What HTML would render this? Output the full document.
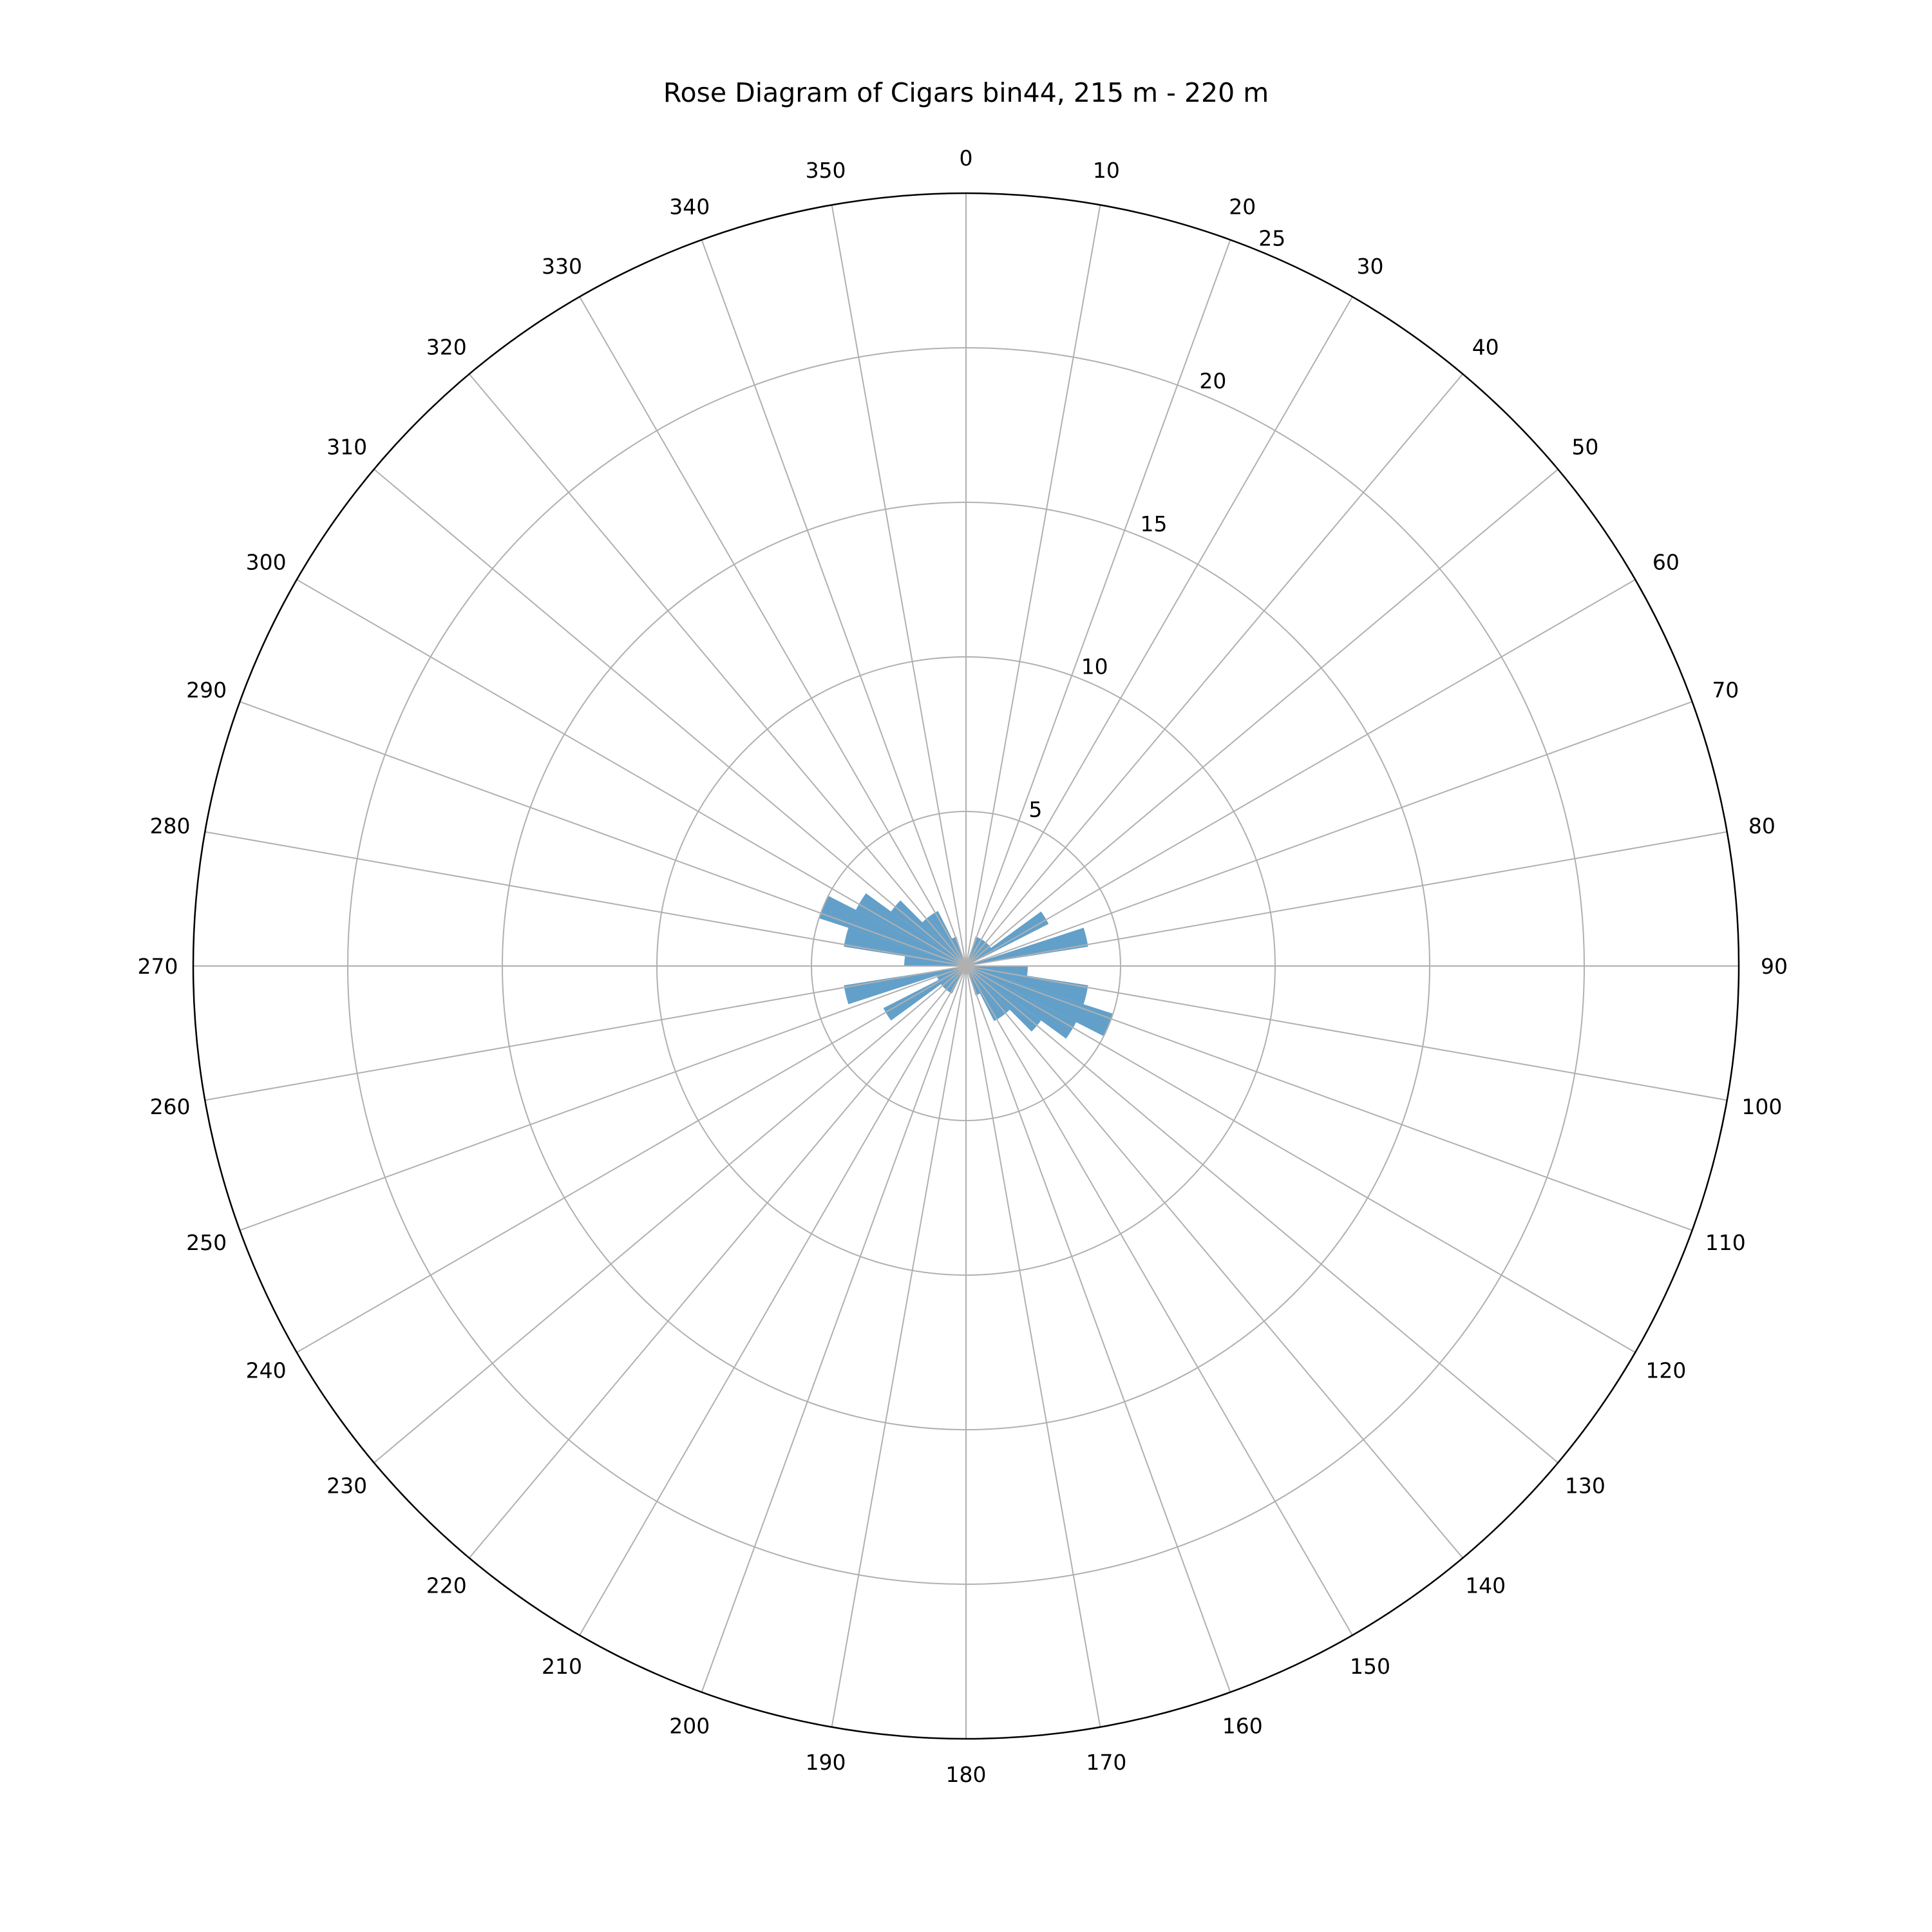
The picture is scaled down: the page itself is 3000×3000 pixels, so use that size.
<!DOCTYPE html>
<html><head><meta charset="utf-8"><style>
html,body{margin:0;padding:0;background:#fff;}
svg{display:block;font-family:"DejaVu Sans","Liberation Sans",sans-serif;}
</style></head><body>
<svg id="chart" width="3000" height="3000" viewBox="0 0 3000 3000" xmlns="http://www.w3.org/2000/svg">
<rect x="0" y="0" width="3000" height="3000" fill="#fff"/>
<text x="1500" y="158" text-anchor="middle" font-size="41" fill="#000">Rose Diagram of Cigars bin44, 215 m - 220 m</text>
<g id="bars"></g>
<g id="grid"></g>
<g id="labels"></g>
</svg>
<script>
const binStarts = [0,9,18,27,36,45,54,63,72,81,90,99,108,117,126,135,144,153,162,171,180,189,198,207,216,225,234,243,252,261,270,279,288,297,306,315,324,333,342,351];
const binCounts = [0,0,1,1,1,1,3,0,4,0,2,4,5,4,3,2,2,1,0,0,0,0,0,1,1,1,3,1,4,0,2,4,5,4,3,2,2,1,0,0];
const binWidth = 9;
const angleTicks = [0,10,20,30,40,50,60,70,80,90,100,110,120,130,140,150,160,170,180,190,200,210,220,230,240,250,260,270,280,290,300,310,320,330,340,350];
const radialTicks = [5,10,15,20,25];
const rMax = 25;

const NS = "http://www.w3.org/2000/svg";
const cx = 1500, cy = 1500, R = 1200;
function rScale(v){ return v / rMax * R; }
function pt(deg, r){ const a = deg*Math.PI/180; return [cx + r*Math.sin(a), cy - r*Math.cos(a)]; }
function mk(tag, attrs, parent){ const e = document.createElementNS(NS, tag); for (const k in attrs) e.setAttribute(k, attrs[k]); parent.appendChild(e); return e; }

const bars = document.getElementById('bars');
binStarts.forEach((s, i) => {
  const v = binCounts[i];
  if (v <= 0) return;
  const r = rScale(v);
  const p1 = pt(s, r), p2 = pt(s + binWidth, r);
  const p = mk('path', {d:`M${cx},${cy} L${p1[0]},${p1[1]} A${r},${r} 0 0 1 ${p2[0]},${p2[1]} Z`, fill:'#1f77b4', 'fill-opacity':'0.7'}, bars);
  
  
});

const grid = document.getElementById('grid');
radialTicks.forEach(t => {
  if (t === rMax) return;
  const c = mk('circle', {cx:cx, cy:cy, r:rScale(t), fill:'none', stroke:'#b0b0b0', 'stroke-width':'2'}, grid);
  
  
});
angleTicks.forEach(a => {
  const p = pt(a, R);
  const l = mk('line', {x1:cx, y1:cy, x2:p[0], y2:p[1], stroke:'#b0b0b0', 'stroke-width':'2'}, grid);
  
  
});
const outer = mk('circle', {cx:cx, cy:cy, r:R, fill:'none', stroke:'#000', 'stroke-width':'2.5'}, grid);



const labels = document.getElementById('labels');
angleTicks.forEach(a => {
  const p = pt(a, R + 55);
  const t = mk('text', {x:p[0], y:p[1] + 12, 'text-anchor':'middle', 'font-size':'33', fill:'#000'}, labels);
  t.textContent = a;
  
  
});
radialTicks.forEach(v => {
  const p = pt(22.5, rScale(v));
  const t = mk('text', {x:p[0] + 16, y:p[1] - 10, 'text-anchor':'middle', 'font-size':'33', fill:'#000'}, labels);
  t.textContent = v;
  
  
});
</script>
</body></html>
